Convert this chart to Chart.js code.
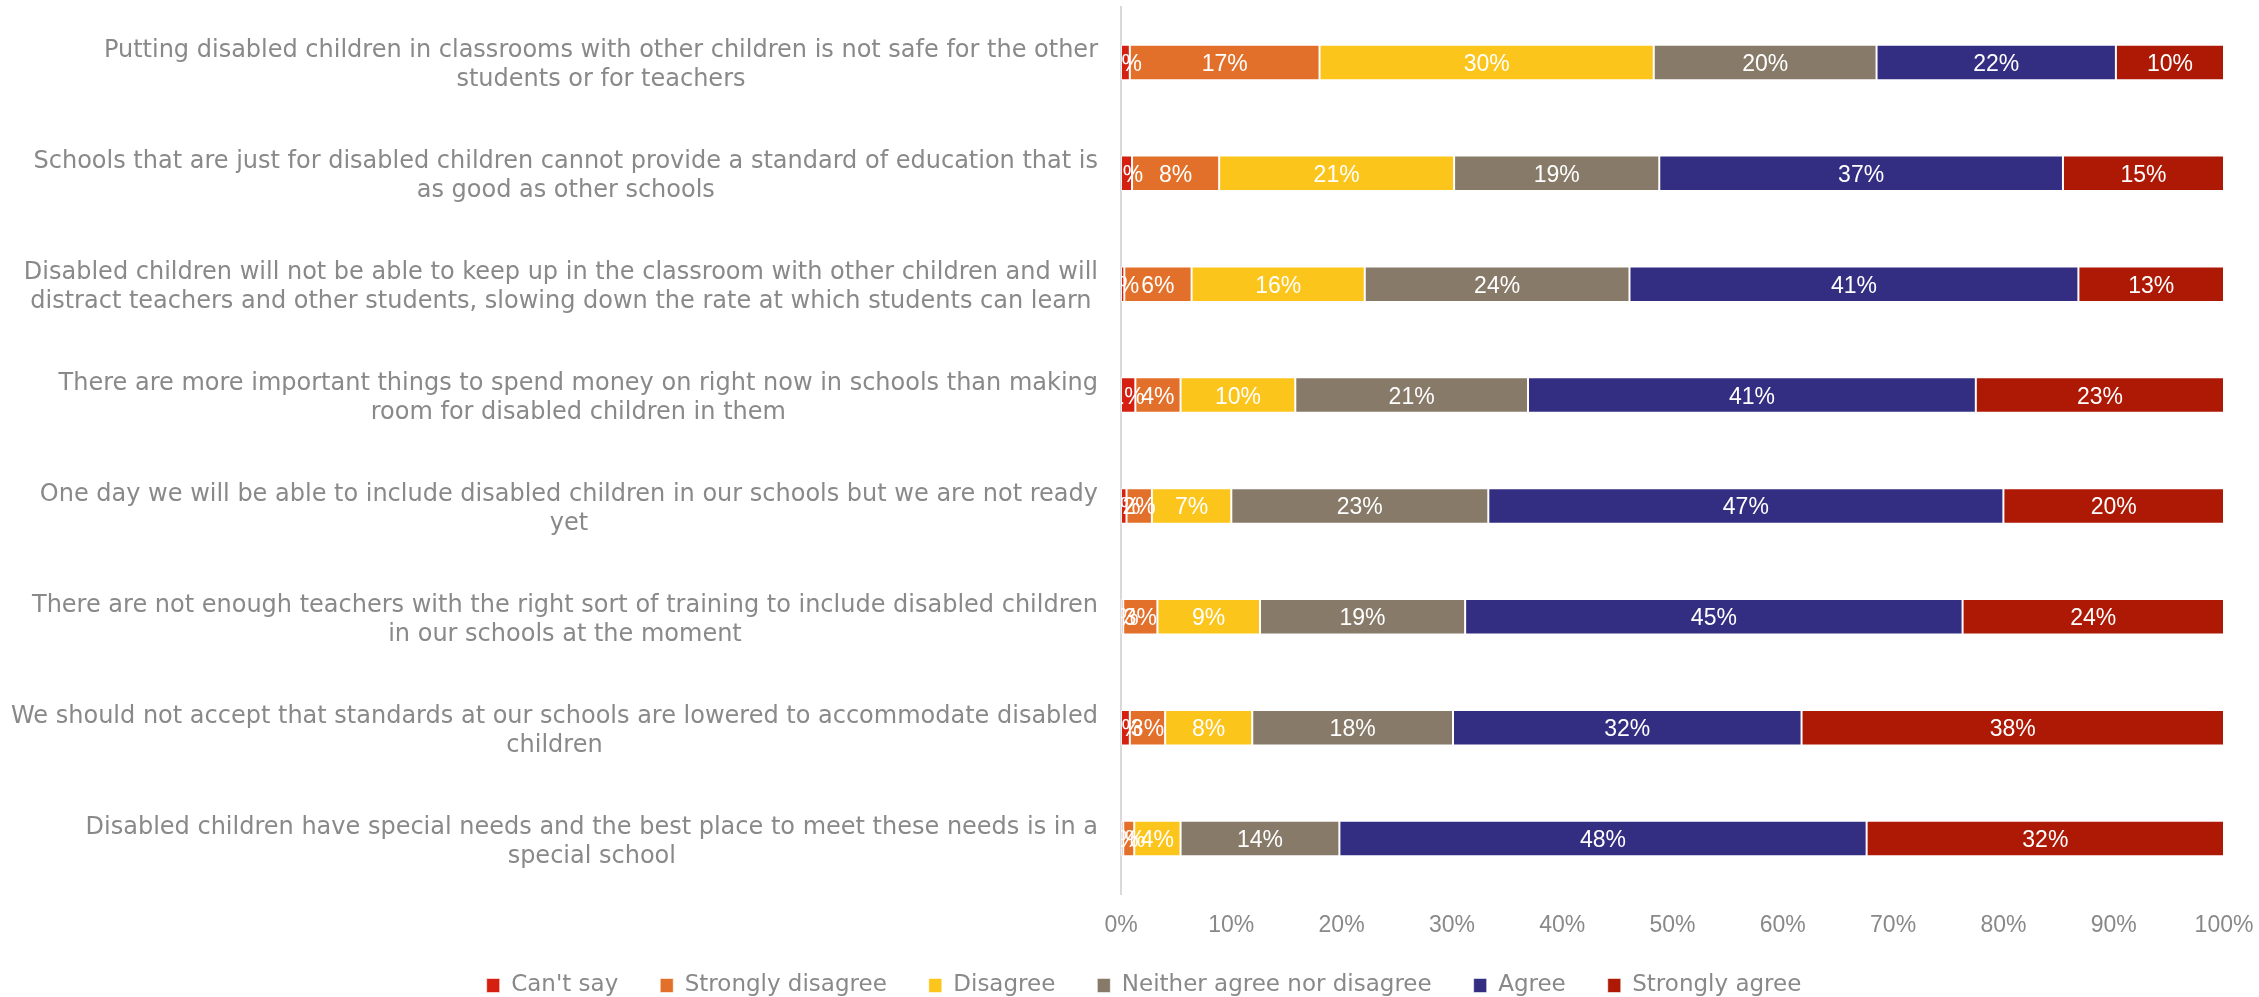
<!DOCTYPE html>
<html lang="en">
<head>
    <meta charset="UTF-8">
    <title>Attitudes to disabled children in schools</title>
    <script src="https://cdn.jsdelivr.net/npm/chart.js"></script>
    <style>
        body { margin: 0; background: #fff; }
        #wrap { width: 2259px; height: 997px; }
    </style>
</head>
<body>
<div id="wrap"><canvas id="grafico"></canvas></div>

<script>
    // statements, top to bottom, already split into the lines they are shown on
    const statements = [
        ["Putting disabled children in classrooms with other children is not safe for the other", "students or for teachers"],
        ["Schools that are just for disabled children cannot provide a standard of education that is", "as good as other schools"],
        ["Disabled children will not be able to keep up in the classroom with other children and will", "distract teachers and other students, slowing down the rate at which students can learn"],
        ["There are more important things to spend money on right now in schools than making", "room for disabled children in them"],
        ["One day we will be able to include disabled children in our schools but we are not ready", "yet"],
        ["There are not enough teachers with the right sort of training to include disabled children", "in our schools at the moment"],
        ["We should not accept that standards at our schools are lowered to accommodate disabled", "children"],
        ["Disabled children have special needs and the best place to meet these needs is in a", "special school"]
    ];

    const answers = ["Can't say", "Strongly disagree", "Disagree", "Neither agree nor disagree", "Agree", "Strongly agree"];

    // percentages per answer, one value per statement
    const cantSay          = [0.8, 1.0, 0.3, 1.3, 0.5, 0.2, 0.8, 0.2];
    const stronglyDisagree = [17.2, 7.9, 6.1, 4.1, 2.3, 3.1, 3.2, 1.0];
    const disagree         = [30.3, 21.3, 15.7, 10.4, 7.2, 9.3, 7.9, 4.2];
    const neither          = [20.2, 18.6, 24.0, 21.1, 23.3, 18.6, 18.2, 14.4];
    const agree            = [21.7, 36.6, 40.7, 40.6, 46.7, 45.1, 31.6, 47.8];
    const stronglyAgree    = [9.8, 14.6, 13.2, 22.5, 20.0, 23.7, 38.3, 32.4];

    const xTicks = [0, 10, 20, 30, 40, 50, 60, 70, 80, 90, 100];

    const colores = ['#d52011', '#e2702a', '#fbc51b', '#877a69', '#342e82', '#ad1904'];
    const series = [cantSay, stronglyDisagree, disagree, neither, agree, stronglyAgree];

    const grisTexto = '#898989';
    const fuenteTexto = "'DejaVu Sans', Verdana, sans-serif";
    const fuenteNumeros = "'Liberation Sans', Arial, sans-serif";

    // white percentage inside each segment, clipped to the plot area
    const etiquetasBarras = {
        id: 'etiquetasBarras',
        afterDatasetsDraw(chart) {
            const ctx = chart.ctx;
            const area = chart.chartArea;
            ctx.save();
            ctx.beginPath();
            ctx.rect(area.left, area.top, area.right - area.left, area.bottom - area.top);
            ctx.clip();
            ctx.fillStyle = '#ffffff';
            ctx.font = "23px " + fuenteNumeros;
            ctx.textAlign = 'center';
            ctx.textBaseline = 'alphabetic';
            chart.data.datasets.forEach((ds, i) => {
                const meta = chart.getDatasetMeta(i);
                meta.data.forEach((bar, j) => {
                    const cx = (bar.x + bar.base) / 2;
                    ctx.fillText(Math.round(ds.data[j]) + '%', cx, bar.y + 8.5);
                });
            });
            ctx.restore();
        }
    };

    // statement text: each block right-aligned to the axis, its lines centred
    const etiquetasY = {
        id: 'etiquetasY',
        afterDraw(chart) {
            const ctx = chart.ctx;
            const escala = chart.scales.y;
            const alto = 29;
            ctx.save();
            ctx.font = "24px " + fuenteTexto;
            ctx.fillStyle = grisTexto;
            ctx.textAlign = 'center';
            ctx.textBaseline = 'alphabetic';
            statements.forEach((lineas, i) => {
                const y = escala.getPixelForValue(i);
                const ancho = Math.max(...lineas.map(l => ctx.measureText(l).width));
                const centro = chart.chartArea.left - 23 - ancho / 2;
                const inicio = y - (lineas.length - 1) * alto / 2 + 9.5;
                lineas.forEach((l, k) => ctx.fillText(l, centro, inicio + k * alto));
            });
            ctx.restore();
        }
    };

    const margenIzq = 64;

    const ctx = document.getElementById('grafico').getContext('2d');
    const miGrafico = new Chart(ctx, {
        type: 'bar',
        data: {
            labels: statements.map(s => s.join(' ')),
            datasets: answers.map((nombre, i) => ({
                label: nombre,
                data: series[i],
                backgroundColor: colores[i],
                borderColor: 'rgba(255,255,255,0.55)',
                borderWidth: 1,
                borderSkipped: false,
                barPercentage: 0.32,
                categoryPercentage: 1
            }))
        },
        options: {
            indexAxis: 'y',
            responsive: true,
            maintainAspectRatio: false,
            animation: false,
            layout: { padding: { top: 7, right: 35, left: margenIzq, bottom: 0 } },
            scales: {
                x: {
                    stacked: true,
                    min: 0,
                    max: 100,
                    afterBuildTicks: (scale) => { scale.ticks = xTicks.map(v => ({ value: v })); },
                    grid: { display: false },
                    border: { display: false },
                    ticks: {
                        color: grisTexto,
                        font: { family: fuenteNumeros, size: 23 },
                        padding: 10,
                        callback: (v) => v + '%'
                    },
                    afterFit: (scale) => {
                        scale.height = 997 - scale.chart.legend.height - 894;
                        scale.paddingLeft = 0;
                        scale.paddingRight = 0;
                    }
                },
                y: {
                    stacked: true,
                    grid: { display: false },
                    border: { color: '#d9d9d9', width: 2 },
                    ticks: { display: false },
                    afterFit: (scale) => { scale.width = 1121 - margenIzq; }
                }
            },
            plugins: {
                legend: {
                    position: 'bottom',
                    maxHeight: 65,
                    labels: {
                        color: grisTexto,
                        font: { family: fuenteTexto, size: 23 },
                        boxWidth: 13,
                        boxHeight: 14,
                        padding: 42
                    }
                },
                tooltip: { enabled: false }
            }
        },
        plugins: [etiquetasBarras, etiquetasY]
    });
</script>
</body>
</html>
